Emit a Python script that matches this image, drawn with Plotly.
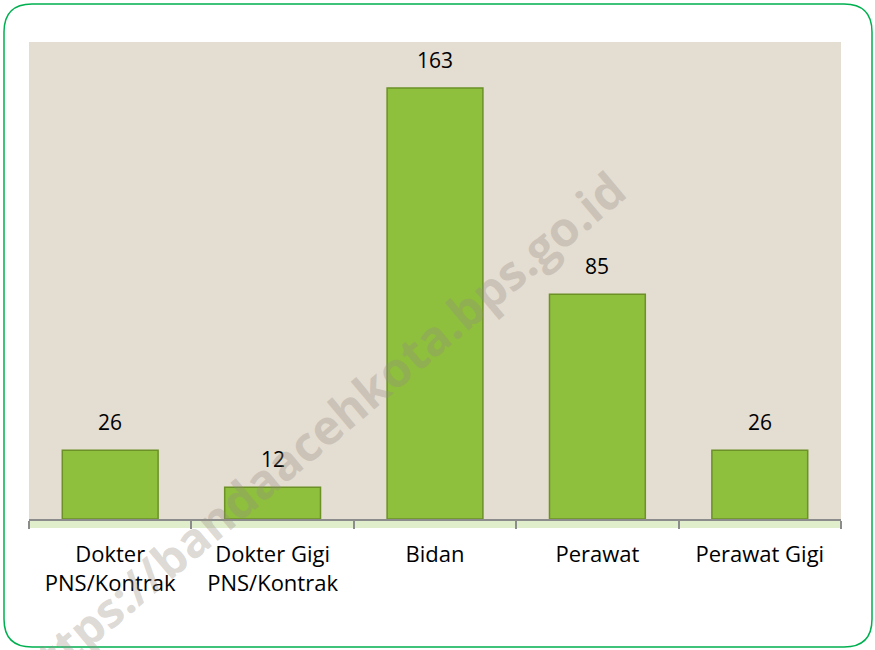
import plotly.graph_objects as go

categories = ["Dokter<br>PNS/Kontrak", "Dokter Gigi<br>PNS/Kontrak", "Bidan", "Perawat", "Perawat Gigi"]
values = [26, 12, 163, 85, 26]

W, H = 875, 650
ML, MR, MT, MB = 29, 34, 42, 131
PW, PH = W - ML - MR, H - MT - MB


def px(x, y):
    # pixel -> paper coordinates
    return (x - ML) / PW, (H - MB - y) / PH


def rounded_rect(x0, y0, x1, y1, r):
    pts = [
        ("M", x0 + r, y0), ("L", x1 - r, y0), ("Q", x1, y0, x1, y0 + r),
        ("L", x1, y1 - r), ("Q", x1, y1, x1 - r, y1), ("L", x0 + r, y1),
        ("Q", x0, y1, x0, y1 - r), ("L", x0, y0 + r), ("Q", x0, y0, x0 + r, y0),
    ]
    out = []
    for p in pts:
        coords = []
        for i in range(1, len(p), 2):
            a, b = px(p[i], p[i + 1])
            coords.append(f"{a:.5f},{b:.5f}")
        out.append(p[0] + " ".join(coords))
    return " ".join(out) + " Z"


fig = go.Figure()
fig.add_trace(go.Bar(
    x=categories,
    y=values,
    marker=dict(color="#8EBF3D", line=dict(color="#6B9127", width=1.5)),
    width=0.59,
    hoverinfo="skip",
))

for c, v in zip(categories, values):
    fig.add_annotation(x=c, y=v, text=str(v), showarrow=False, yanchor="bottom",
                       yshift=12, font=dict(size=21, color="#000000"))

# watermark
wx, wy = px(318, 432)
fig.add_annotation(x=wx, y=wy, xref="paper", yref="paper", xanchor="center", yanchor="middle",
                   text="<b>https://bandaacehkota.bps.go.id</b>",
                   showarrow=False, textangle=-40, font=dict(size=48, color="rgba(150,140,130,0.33)"))

fig.update_layout(
    width=W, height=H,
    margin=dict(l=ML, r=MR, t=MT, b=MB),
    paper_bgcolor="white",
    plot_bgcolor="#E4DDD1",
    font=dict(family="Open Sans, sans-serif", size=21, color="#000000"),
    showlegend=False,
    shapes=[
        dict(type="path", xref="paper", yref="paper", path=rounded_rect(4, 4, 872, 647, 28),
             line=dict(color="#00B050", width=1.5), layer="above"),
        dict(type="rect", xref="paper", yref="paper",
             x0=px(29, 0)[0], x1=px(841, 0)[0], y0=px(0, 528)[1], y1=px(0, 519)[1],
             fillcolor="rgba(170,205,110,0.35)", line=dict(width=0), layer="below"),
    ],
)
fig.update_xaxes(showline=True, linecolor="#8C8C8C", linewidth=1.5, ticks="outside",
                 tickson="boundaries", ticklen=8, tickcolor="#8C8C8C", tickwidth=1.5,
                 showgrid=False, tickfont=dict(size=22), ticklabelstandoff=15)
fig.update_yaxes(range=[0, 180.4], visible=False, showgrid=False, zeroline=False)

fig.write_html("out.html", config={"displayModeBar": False},
               post_script="document.body.style.margin='0';")
